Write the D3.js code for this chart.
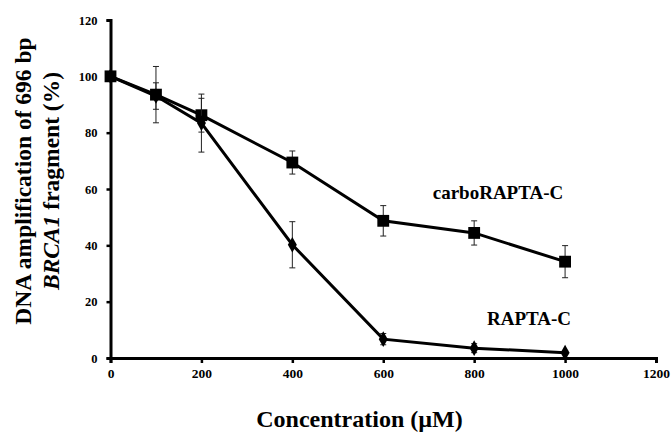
<!DOCTYPE html>
<html>
<head>
<meta charset="utf-8">
<script src="https://cdn.jsdelivr.net/npm/d3@7"></script>
<style>
  body { margin: 0; background: #fff; }
</style>
</head>
<body>
<div id="chart"></div>
<script>
// data
var concentrations = [0, 100, 200, 400, 600, 800, 1000];
var carboValues = [100, 93.5, 86.2, 69.4, 48.7, 44.4, 34.2];
var carboErrors = [0, 10, 6, 4.1, 5.4, 4.3, 5.7];
var raptaValues = [100, 93, 83.4, 40.2, 6.7, 3.5, 1.9];
var raptaErrors = [0, 4.7, 10.3, 8.2, 2, 1.6, 0.6];
var xTicks = [0, 200, 400, 600, 800, 1000, 1200];
var yTicks = [0, 20, 40, 60, 80, 100, 120];

var FONT = "'Liberation Serif', 'Times New Roman', Times, 'DejaVu Serif', serif";

function Chart(){
    this.sizes = {width: 672, height: 434};
    this.margin = {left: 110.5, right: 16, top: 20, bottom: 76};
}

Chart.prototype.make_svg = function(){
    this.svg = d3.select('#chart').append('svg')
        .attr('width', this.sizes.width)
        .attr('height', this.sizes.height)
        .attr('font-family', FONT)
        .attr('font-weight', 'bold');
    this.x = d3.scaleLinear().domain([0, 1200])
        .range([this.margin.left, this.sizes.width - this.margin.right]);
    this.y = d3.scaleLinear().domain([0, 120])
        .range([this.sizes.height - this.margin.bottom, this.margin.top]);
};

Chart.prototype.axes = function(){
    var x = this.x, y = this.y;
    var gx = this.svg.append('g')
        .attr('transform', 'translate(0,' + y(0) + ')')
        .call(d3.axisBottom(x).tickValues(xTicks).tickSize(5).tickPadding(5).tickFormat(d3.format('d')));
    var gy = this.svg.append('g')
        .attr('transform', 'translate(' + x(0) + ',0)')
        .call(d3.axisLeft(y).tickValues(yTicks).tickSize(4).tickPadding(9).tickFormat(d3.format('d')));
    [gx, gy].forEach(function(g){
        g.attr('font-family', FONT);
        g.select('.domain').attr('stroke', '#000').attr('stroke-width', 3);
        g.selectAll('.tick line').attr('stroke', '#000').attr('stroke-width', 2.5);
        g.selectAll('.tick text').attr('fill', '#000');
    });
    gx.attr('font-size', 13.5);
    gy.attr('font-size', 12.5);

    // y title, two lines
    var yt = this.svg.append('text')
        .attr('transform', 'translate(31,181) rotate(-90)')
        .attr('text-anchor', 'middle')
        .attr('font-size', 23.5);
    yt.append('tspan').attr('x', 0).attr('y', 0).text('DNA amplification of 696 bp');
    var l2 = yt.append('tspan').attr('x', 0).attr('y', 27.5);
    l2.append('tspan').attr('font-style', 'italic').text('BRCA1');
    l2.append('tspan').text(' fragment (%)');

    this.svg.append('text')
        .attr('x', 359.5).attr('y', 427)
        .attr('text-anchor', 'middle')
        .attr('font-size', 24)
        .text('Concentration (\u00b5M)');
};

Chart.prototype.series = function(values, errors, shape, label, lx, ly){
    var x = this.x, y = this.y, svg = this.svg;
    var pts = concentrations.map(function(c, i){ return {c: c, v: values[i], e: errors[i]}; });

    var bars = svg.append('g').attr('stroke', '#222').attr('stroke-width', 1);
    pts.filter(function(d){ return d.e > 0; }).forEach(function(d){
        var px = x(d.c);
        bars.append('line').attr('x1', px).attr('x2', px)
            .attr('y1', y(d.v + d.e)).attr('y2', y(d.v - d.e));
        bars.append('line').attr('x1', px - 3).attr('x2', px + 3)
            .attr('y1', y(d.v + d.e)).attr('y2', y(d.v + d.e));
        bars.append('line').attr('x1', px - 3).attr('x2', px + 3)
            .attr('y1', y(d.v - d.e)).attr('y2', y(d.v - d.e));
    });

    svg.append('path').datum(pts)
        .attr('fill', 'none').attr('stroke', '#000').attr('stroke-width', 3)
        .attr('d', d3.line().x(function(d){ return x(d.c); }).y(function(d){ return y(d.v); }));

    svg.append('g').selectAll('path').data(pts).enter().append('path')
        .attr('transform', function(d){ return 'translate(' + x(d.c) + ',' + y(d.v) + ')'; })
        .attr('fill', '#000')
        .attr('d', d3.symbol().type(shape).size(shape === d3.symbolSquare ? 140 : 70));

    svg.append('text').attr('x', lx).attr('y', ly)
        .attr('text-anchor', 'middle').attr('font-size', 19)
        .text(label);
};

Chart.prototype.runit = function(){
    this.make_svg();
    this.series(carboValues, carboErrors, d3.symbolSquare, 'carboRAPTA-C', 498, 199);
    this.series(raptaValues, raptaErrors, d3.symbolDiamond, 'RAPTA-C', 529, 325);
    this.axes();
};

new Chart().runit();
</script>
</body>
</html>
